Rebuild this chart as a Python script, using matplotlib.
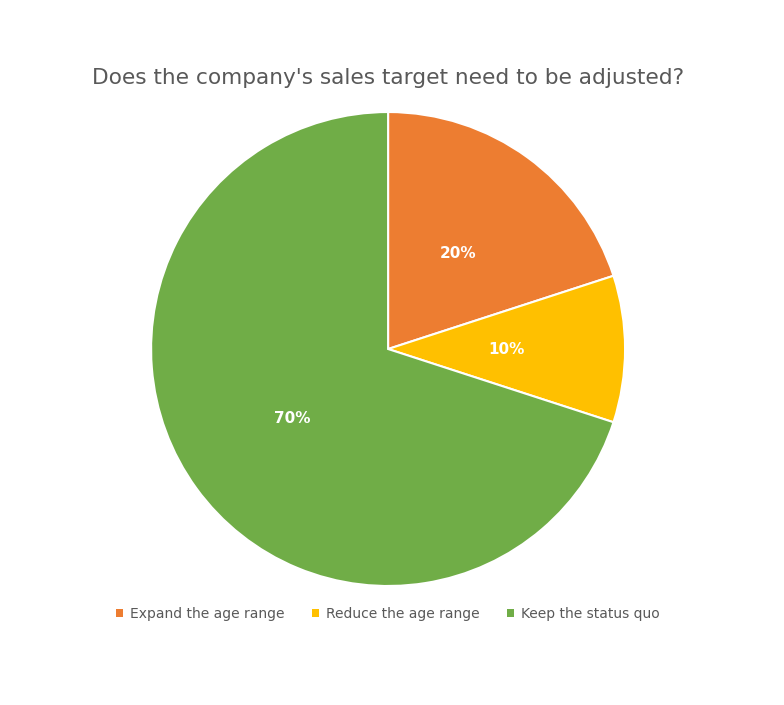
import matplotlib
matplotlib.use("Agg")
import matplotlib.pyplot as plt
from matplotlib.patches import Patch

labels = ["Expand the age range", "Reduce the age range", "Keep the status quo"]
values = [20, 10, 70]
colors = ["#ED7D31", "#FFC000", "#70AD47"]

fig = plt.figure(figsize=(7.84, 7.05), dpi=100)
ax = fig.add_axes([0.495 - 0.3023, 0.505 - 0.3362, 0.6046, 0.6723])
wedges, texts, autotexts = ax.pie(values, colors=colors, startangle=90, counterclock=False,
       autopct="%d%%", pctdistance=0.5,
       wedgeprops=dict(edgecolor="white", linewidth=1.5),
       textprops=dict(color="white", fontsize=11, fontweight="bold"))
ax.set_xlim(-1, 1)
ax.set_ylim(-1, 1)
ax.set_aspect("equal")
fig.text(0.495, 0.89, "Does the company's sales target need to be adjusted?",
         ha="center", va="center", fontsize=15.6, color="#595959")
handles = [Patch(facecolor=c, label=l) for c, l in zip(colors, labels)]
fig.legend(handles=handles, loc="center", bbox_to_anchor=(0.495, 0.129), ncol=3,
           frameon=False, fontsize=10, handlelength=0.5, handleheight=0.5,
           handletextpad=0.5, columnspacing=2.0, labelcolor="#595959")
fig.savefig("out.png", dpi=100)
